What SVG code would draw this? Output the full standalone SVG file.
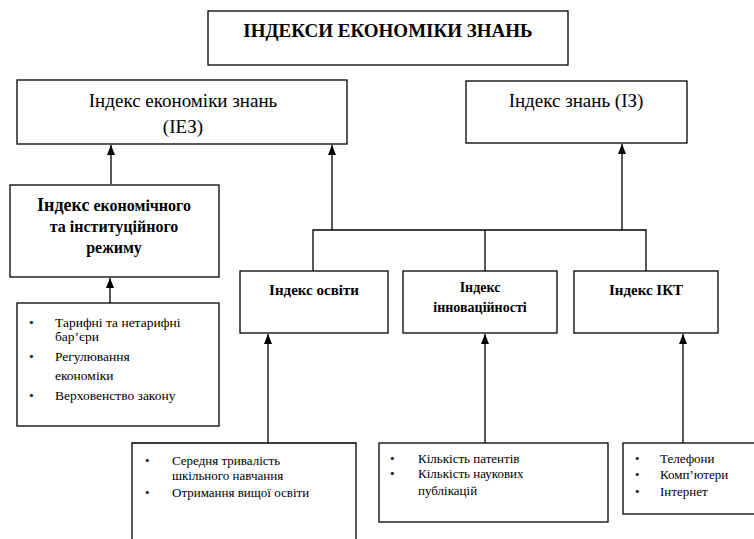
<svg xmlns="http://www.w3.org/2000/svg" width="754" height="539" viewBox="0 0 754 539">
<style>
.box{fill:#fff;stroke:#000;stroke-width:1.3}
.ln{fill:none;stroke:#000;stroke-width:1.3}
text{font-family:'Liberation Serif','Times New Roman',serif;fill:#000}
.b{font-weight:bold}
</style>
<defs>
<marker id="ah" markerWidth="10" markerHeight="8" refX="10" refY="4" orient="auto" markerUnits="userSpaceOnUse" viewBox="0 0 10 8">
<path d="M0,0 L10,4 L0,8 Z" fill="#000"/>
</marker>
</defs>
<rect width="754" height="539" fill="#fff"/>
<g id="connectors">
<line class="ln" x1="111" y1="184" x2="111" y2="145" marker-end="url(#ah)"/>
<line class="ln" x1="332" y1="230" x2="332" y2="145" marker-end="url(#ah)"/>
<line class="ln" x1="622" y1="230" x2="622" y2="144" marker-end="url(#ah)"/>
<polyline class="ln" points="313,271 313,230 646,230 646,271"/>
<line class="ln" x1="485" y1="230" x2="485" y2="271"/>
<line class="ln" x1="110" y1="303" x2="110" y2="278" marker-end="url(#ah)"/>
<line class="ln" x1="268" y1="443" x2="268" y2="334" marker-end="url(#ah)"/>
<line class="ln" x1="485" y1="443" x2="485" y2="334" marker-end="url(#ah)"/>
<line class="ln" x1="683" y1="443" x2="683" y2="334" marker-end="url(#ah)"/>
</g>
<g id="title">
<rect class="box" x="208" y="11" width="360" height="54"/>
<text class="b" x="388" y="37" font-size="19" text-anchor="middle" font-family="Liberation Serif">ІНДЕКСИ ЕКОНОМІКИ ЗНАНЬ</text>
</g>
<g id="iez">
<rect class="box" x="17" y="80" width="330" height="64"/>
<text x="183" y="107" font-size="19" text-anchor="middle">Індекс економіки знань</text>
<text x="183" y="133" font-size="19" text-anchor="middle">(ІЕЗ)</text>
</g>
<g id="iz">
<rect class="box" x="466" y="81" width="221" height="62"/>
<text x="576" y="107" font-size="19" text-anchor="middle">Індекс знань (ІЗ)</text>
</g>
<g id="regime">
<rect class="box" x="10" y="185" width="209" height="92"/>
<text class="b" x="114" y="211" font-size="16" text-anchor="middle"><tspan font-size="18">Індекс</tspan> економічного</text>
<text class="b" x="114" y="232" font-size="16" text-anchor="middle">та інституційного</text>
<text class="b" x="114" y="253" font-size="16" text-anchor="middle">режиму</text>
</g>
<g id="regime-list" font-size="13.5">
<rect class="box" x="17" y="303" width="202" height="123"/>
<text x="29" y="327">•</text><text x="55" y="327">Тарифні та нетарифні</text>
<text x="55" y="341">бар’єри</text>
<text x="29" y="361">•</text><text x="55" y="361">Регулювання</text>
<text x="55" y="380">економіки</text>
<text x="29" y="400">•</text><text x="55" y="400">Верховенство закону</text>
</g>
<g id="edu">
<rect class="box" x="240" y="271" width="148" height="62"/>
<text class="b" x="314" y="295" font-size="15" text-anchor="middle">Індекс освіти</text>
</g>
<g id="innov">
<rect class="box" x="403" y="271" width="154" height="62"/>
<text class="b" x="480" y="292" font-size="14" text-anchor="middle">Індекс</text>
<text class="b" x="480" y="312" font-size="14" text-anchor="middle">інноваційності</text>
</g>
<g id="ict">
<rect class="box" x="574" y="271" width="144" height="62"/>
<text class="b" x="646" y="295" font-size="15" text-anchor="middle">Індекс ІКТ</text>
</g>
<g id="edu-list" font-size="13">
<path class="ln" d="M132,545 V443 H356 V545"/>
<text x="145" y="465">•</text><text x="172" y="465">Середня тривалість</text>
<text x="172" y="480">шкільного навчання</text>
<text x="145" y="497">•</text><text x="172" y="497">Отримання вищої освіти</text>
</g>
<g id="innov-list" font-size="13">
<rect class="box" x="379" y="443" width="229" height="79"/>
<text x="390" y="463">•</text><text x="418" y="463">Кількість патентів</text>
<text x="390" y="478">•</text><text x="418" y="478">Кількість наукових</text>
<text x="418" y="495">публікацій</text>
</g>
<g id="ict-list" font-size="13">
<rect class="box" x="623" y="443" width="133" height="71"/>
<text x="635" y="463">•</text><text x="660" y="463">Телефони</text>
<text x="635" y="479">•</text><text x="660" y="479">Комп’ютери</text>
<text x="635" y="496">•</text><text x="660" y="496">Інтернет</text>
</g>
</svg>
